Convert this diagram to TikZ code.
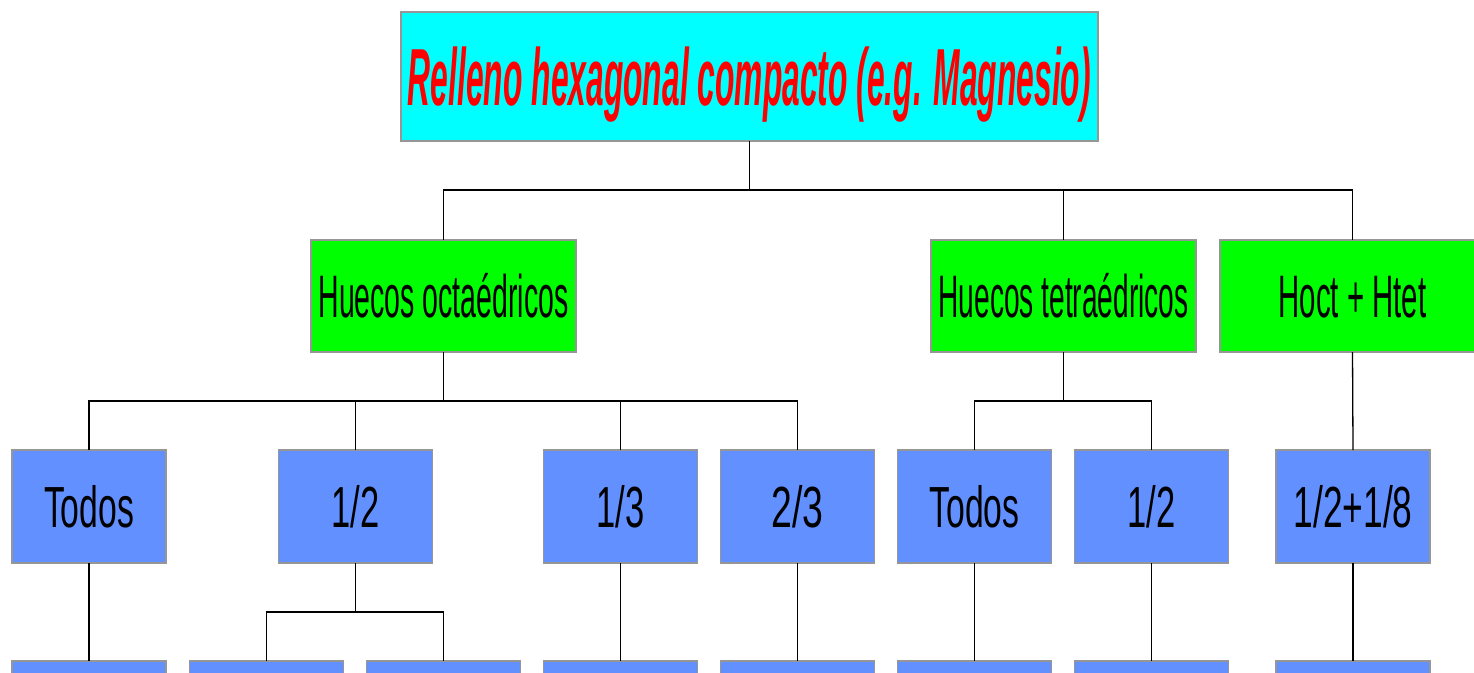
\documentclass[tikz,border=0pt]{standalone}
\usepackage{fontspec}
\setmainfont{Liberation Sans}
\usepackage{graphicx}
\definecolor{cyanbox}{RGB}{0,255,255}
\definecolor{greenbox}{RGB}{0,255,0}
\definecolor{bluebox}{RGB}{98,144,255}
\definecolor{bordgray}{RGB}{150,150,150}
\newcommand{\sqz}[2]{\resizebox{#1pt}{\height}{#2}}
\tikzset{
  boxbase/.style={draw=bordgray, line width=1.5pt, inner sep=0pt, outer sep=0pt, align=center, text depth=0pt},
  titlebox/.style={boxbase, fill=cyanbox, minimum width=697pt, minimum height=129pt, text=red,
     font=\fontsize{81}{90}\selectfont\bfseries\itshape, text height=58pt},
  greenbox/.style={boxbase, fill=greenbox, minimum width=265pt, minimum height=112pt,
     font=\fontsize{60}{66}\selectfont, text height=43pt},
  bluebox/.style={boxbase, fill=bluebox, minimum width=154pt, minimum height=113pt,
     font=\fontsize{58}{64}\selectfont, text height=41.5pt},
  link/.style={line width=1.3pt, black}
}
\begin{document}
\begin{tikzpicture}[x=1pt,y=-1pt]
\useasboundingbox (0,0) rectangle (1474,672);
\clip (0,0) rectangle (1474,672);
% root
\node[titlebox] (root) at (749.5,76.5) {\sqz{683}{Relleno hexagonal compacto (e.g. Magnesio)}};
% level 1
\node[greenbox] (g1) at (443.5,296) {\sqz{250}{Huecos octaédricos}};
\node[greenbox] (g2) at (1063.5,296) {\sqz{250}{Huecos tetraédricos}};
\node[greenbox] (g3) at (1352.5,296) {\sqz{148}{Hoct + Htet}};
% level 2
\node[bluebox] (a1) at (89,506.5) {\sqz{90}{Todos}};
\node[bluebox] (a2) at (355.5,506.5) {\sqz{48}{1/2}};
\node[bluebox] (a3) at (620.5,506.5) {\sqz{48}{1/3}};
\node[bluebox] (a4) at (797.5,506.5) {\sqz{52}{2/3}};
\node[bluebox] (b1) at (974.5,506.5) {\sqz{90}{Todos}};
\node[bluebox] (b2) at (1151.5,506.5) {\sqz{48}{1/2}};
\node[bluebox] (c1) at (1353,506.5) {\sqz{119}{1/2+1/8}};
% level 3 (cut by the picture's lower edge)
\node[bluebox] (d1) at (89,717.5) {};
\node[bluebox] (d2) at (266.5,717.5) {};
\node[bluebox] (d3) at (443.5,717.5) {};
\node[bluebox] (d4) at (620.5,717.5) {};
\node[bluebox] (d5) at (797.5,717.5) {};
\node[bluebox] (d6) at (974.5,717.5) {};
\node[bluebox] (d7) at (1151.5,717.5) {};
\node[bluebox] (d8) at (1353,717.5) {};
% bus coordinates
\coordinate (bus0) at (0,190);
\coordinate (bus1) at (0,401);
\coordinate (bus2) at (0,612);
% connectors
\draw[link] (root.south) -- (root.south |- bus0);
\draw[link] (g1.north) |- (g3.north |- bus0) -- (g3.north);
\draw[link] (g2.north) -- (g2.north |- bus0);
\draw[link] (g1.south) -- (g1.south |- bus1);
\draw[link] (a1.north) |- (a4.north |- bus1) -- (a4.north);
\draw[link] (a2.north) -- (a2.north |- bus1);
\draw[link] (a3.north) -- (a3.north |- bus1);
\draw[link] (g2.south) -- (g2.south |- bus1);
\draw[link] (b1.north) |- (b2.north |- bus1) -- (b2.north);
\draw[link] (g3.south) -- (c1.north);
\draw[link] (a1.south) -- (d1.north);
\draw[link] (a2.south) -- (a2.south |- bus2);
\draw[link] (d2.north) |- (d3.north |- bus2) -- (d3.north);
\draw[link] (a3.south) -- (d4.north);
\draw[link] (a4.south) -- (d5.north);
\draw[link] (b1.south) -- (d6.north);
\draw[link] (b2.south) -- (d7.north);
\draw[link] (c1.south) -- (d8.north);
\end{tikzpicture}
\end{document}
